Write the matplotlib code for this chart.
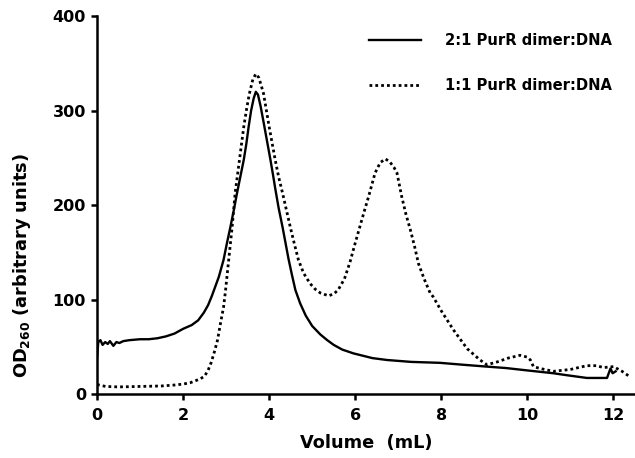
import numpy as np
import matplotlib
matplotlib.use("Agg")
import matplotlib.pyplot as plt

# 2:1 PurR dimer:DNA (solid)
vol_21 = [0.0, 0.03, 0.08, 0.13, 0.19, 0.25, 0.30, 0.38, 0.45, 0.52, 0.61, 0.75,
          1.0, 1.2, 1.4, 1.6, 1.8, 2.0, 2.2, 2.35, 2.48, 2.58, 2.67, 2.75, 2.83,
          2.94, 3.02, 3.10, 3.18, 3.25, 3.33, 3.41, 3.47, 3.52, 3.58, 3.64, 3.69,
          3.74, 3.80, 3.87, 3.95, 4.03, 4.09, 4.14, 4.22, 4.31, 4.38, 4.45, 4.53,
          4.61, 4.72, 4.85, 5.0, 5.19, 5.35, 5.5, 5.7, 5.96, 6.4, 6.74, 7.3, 7.97,
          8.5, 9.06, 9.5, 9.99, 10.6, 10.9, 11.38, 11.77, 11.85, 11.93, 11.98, 12.05]
od_21 = [38, 55, 57, 52, 55, 53, 56, 51, 55, 54, 56, 57,
         58, 58, 59, 61, 64, 69, 73, 78, 86, 94, 104, 114, 124,
         142, 160, 177, 195, 212, 230, 248, 265, 282, 300, 313, 320,
         317, 305, 288, 268, 248, 232, 218, 197, 177, 160, 143, 126,
         110, 96, 83, 72, 63, 57, 52, 47, 43, 38, 36, 34, 33,
         31, 29, 27.5, 25, 22, 20, 17, 17, 17, 27, 22, 24]

# 1:1 PurR dimer:DNA (dotted)
vol_11 = [0.0, 0.2, 0.5, 1.0, 1.5, 1.8, 2.0, 2.17, 2.4, 2.5, 2.58, 2.65, 2.73,
          2.8, 2.87, 2.94, 2.98, 3.06, 3.14, 3.21, 3.31, 3.41, 3.48, 3.54, 3.62,
          3.69, 3.76, 3.82, 3.87, 4.0, 4.14, 4.22, 4.31, 4.40, 4.49, 4.58, 4.68,
          4.80, 4.95, 5.07, 5.19, 5.38, 5.50, 5.60, 5.75, 5.88, 6.0, 6.1, 6.2,
          6.31, 6.46, 6.58, 6.70, 6.80, 6.90, 6.97, 7.08, 7.18, 7.28, 7.38, 7.47,
          7.60, 7.74, 7.81, 8.0, 8.28, 8.6, 8.9, 9.06, 9.3, 9.55, 9.83, 10.0,
          10.07, 10.14, 10.3, 10.6, 11.0, 11.38, 11.6, 11.77, 12.0, 12.2, 12.39]
od_11 = [10, 8, 7.5, 8, 8.5, 9.5, 10.5, 12, 16, 19, 25, 33, 45,
         57, 75, 92, 107, 142, 177, 213, 248, 283, 303, 318, 333,
         339, 335, 326, 318, 283, 248, 230, 213, 195, 177, 160, 142,
         128, 117, 111, 107, 104, 106, 110, 122, 140, 160, 176, 192,
         209, 234, 245, 249, 246, 240, 234, 209, 190, 174, 156, 138,
         122, 107, 103, 88, 68, 48, 36, 31, 34, 38, 41, 39,
         36, 29, 27, 24, 26, 30, 30, 28, 29, 24, 18]

x_ticks = [0, 2, 4, 6, 8, 10, 12]
y_ticks = [0, 100, 200, 300, 400]

plt.rcParams['font.family'] = ['DejaVu Sans']
plt.rcParams['font.weight'] = 'bold'

fig = plt.figure(figsize=(6.35, 4.58), dpi=100)
ax = fig.add_axes([97 / 635, 64 / 458, 538 / 635, 377.7 / 458])

ax.plot(vol_21, od_21, color='black', lw=1.7, label='2:1 PurR dimer:DNA',
        solid_joinstyle='round')
ax.plot(vol_11, od_11, color='black', lw=2.0, linestyle=(0, (1, 1.1)),
        label='1:1 PurR dimer:DNA')

ax.set_xlim(0, 12.5)
ax.set_ylim(0, 400)
ax.set_xticks(x_ticks)
ax.set_yticks(y_ticks)
ax.tick_params(axis='both', direction='out', width=1.8, labelsize=11.5)
ax.tick_params(axis='x', length=4, pad=6)
ax.tick_params(axis='y', length=4, pad=4)
for lab in ax.get_xticklabels() + ax.get_yticklabels():
    lab.set_fontweight('bold')

for side in ['top', 'right']:
    ax.spines[side].set_visible(False)
for side in ['left', 'bottom']:
    ax.spines[side].set_linewidth(1.8)

ax.set_xlabel('Volume  (mL)', fontsize=12.8, fontweight='bold', labelpad=8)
fig.text(22 / 635, 1 - 266 / 458, r'OD$_{\mathbf{260}}$ (arbitrary units)',
         rotation=90, ha='center', va='center', fontsize=12.8, fontweight='bold')

leg = ax.legend(loc='upper left', bbox_to_anchor=(0.5056, 0.9545), frameon=False,
                fontsize=10.6, handlelength=3.5, handletextpad=1.65,
                labelspacing=2.0, borderpad=0, borderaxespad=0)
for t in leg.get_texts():
    t.set_fontweight('bold')

fig.savefig('out.png', dpi=100)
